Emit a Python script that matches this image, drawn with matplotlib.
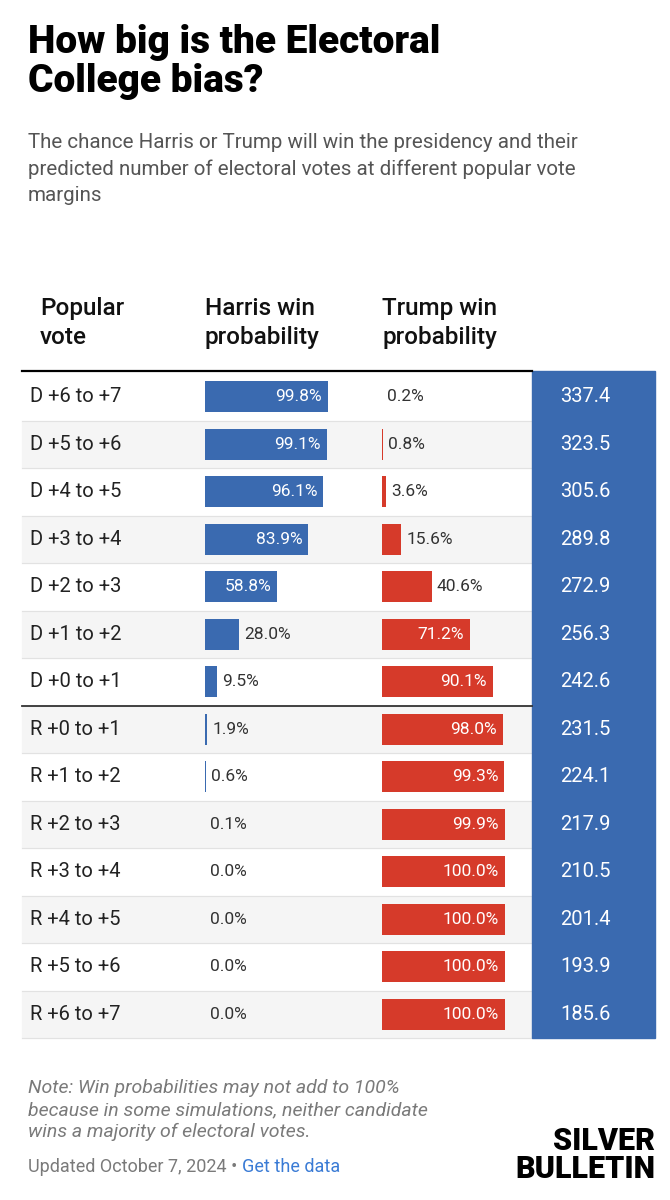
import matplotlib
matplotlib.use("Agg")
import matplotlib.pyplot as plt

margins = ["D +6 to +7","D +5 to +6","D +4 to +5","D +3 to +4","D +2 to +3","D +1 to +2","D +0 to +1",
           "R +0 to +1","R +1 to +2","R +2 to +3","R +3 to +4","R +4 to +5","R +5 to +6","R +6 to +7"]
harris_win = [99.8,99.1,96.1,83.9,58.8,28.0,9.5,1.9,0.6,0.1,0.0,0.0,0.0,0.0]
trump_win = [0.2,0.8,3.6,15.6,40.6,71.2,90.1,98.0,99.3,99.9,100.0,100.0,100.0,100.0]
harris_ev = [337.4,323.5,305.6,289.8,272.9,256.3,242.6,231.5,224.1,217.9,210.5,201.4,193.9,185.6]

BLUE = "#3a6ab0"; RED = "#d63a2a"; GRAY = "#7a7a7a"
W, H = 670, 1200
fig = plt.figure(figsize=(W/100, H/100), dpi=100)
ax = fig.add_axes([0,0,1,1])
ax.set_xlim(0, W); ax.set_ylim(H, 0); ax.axis("off")
F = "Roboto"

ax.text(28, 62, "How big is the Electoral\nCollege bias?", fontsize=28, fontweight="black", family=F,
        va="center", ha="left", linespacing=1.05)
ax.text(28, 169, "The chance Harris or Trump will win the presidency and their\npredicted number of electoral votes at different popular vote\nmargins",
        fontsize=14.8, color="#555555", family=F, va="center", linespacing=1.45)

top, rh = 373, 47.5
n = len(margins)
ys = [top + rh*(i+0.5) for i in range(n)]
for i, y in enumerate(ys):
    if i % 2 == 1:
        ax.add_patch(plt.Rectangle((22, y-rh/2), 510, rh, color="#f5f5f5", zorder=0))
    ax.plot([22, 532], [y+rh/2, y+rh/2], color="#e2e2e2", lw=0.8, zorder=1)
ax.add_patch(plt.Rectangle((532, top-2), 123, rh*n + 2, color=BLUE, zorder=1))
ax.plot([22, 532], [top-2, top-2], color="black", lw=1.6, zorder=2)
ax.plot([22, 532], [top+rh*7, top+rh*7], color="#333333", lw=1.3, zorder=2)

hy = 323
kw = dict(fontsize=17.5, family=F, fontweight="medium", va="center", linespacing=1.3, color="#111111")
ax.text(40, hy, "Popular\nvote", **kw)
ax.text(205, hy, "Harris win\nprobability", **kw)
ax.text(382, hy, "Trump win\nprobability", **kw)
ht = ax.text(559, 307, "Harris'\nelectoral\nvotes", **kw)
ht.set_clip_box(ax.transData.transform_bbox(matplotlib.transforms.Bbox([[0, 0], [655, 1200]])))
ht.set_clip_on(True)

hs, ts = 123/100, 123/100
ax.barh(ys, [v*hs for v in harris_win], left=205, height=31, color=BLUE, zorder=3)
ax.barh(ys, [v*ts for v in trump_win], left=382, height=31, color=RED, zorder=3)
for i, y in enumerate(ys):
    ax.text(30, y, margins[i], fontsize=14.5, family=F, va="center", color="#222222")
    for x0, v, s in ((205, harris_win[i], hs), (382, trump_win[i], ts)):
        end = x0 + v*s
        if v >= 50:
            ax.text(end-6, y, f"{v:.1f}%", fontsize=12.5, family=F, color="white", ha="right", va="center", zorder=4)
        else:
            ax.text(max(end, x0) + 5, y, f"{v:.1f}%", fontsize=12.5, family=F, color="#333333", ha="left", va="center", zorder=4)
    ax.text(560, y, f"{harris_ev[i]:.1f}", fontsize=14.5, family=F, color="white", va="center", zorder=4)

ax.text(28, 1110, "Note: Win probabilities may not add to 100%\nbecause in some simulations, neither candidate\nwins a majority of electoral votes.",
        fontsize=14, family=F, style="italic", color=GRAY, va="center", linespacing=1.3)
t = ax.text(28, 1167, "Updated October 7, 2024 • ", fontsize=13, family=F, color=GRAY, va="center")
fig.canvas.draw()
bb = t.get_window_extent()
ax.text(bb.x1, 1167, "Get the data", fontsize=13, family=F, color="#3a7bd5", va="center")
ax.text(655, 1155, "SILVER\nBULLETIN", fontsize=22, family=F, fontweight="black", ha="right", va="center",
        linespacing=0.9)

fig.savefig("out.png", dpi=100)
